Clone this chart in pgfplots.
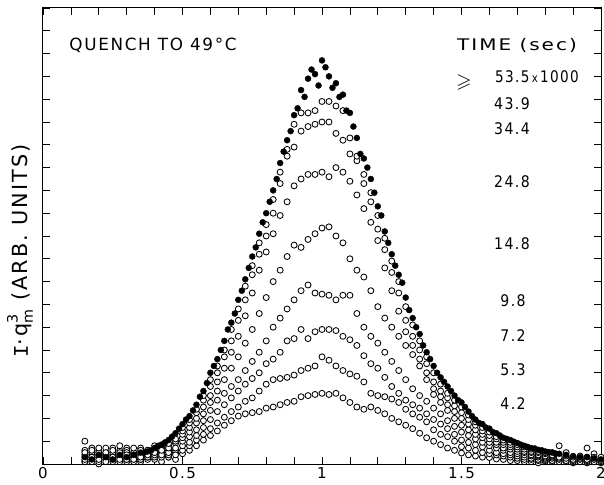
\documentclass[border=0pt]{standalone}
\usepackage{pgfplots}
\pgfplotsset{compat=1.18}
\usepackage{pgfplotstable}
\usepackage{amssymb}
\usepackage{fontspec}
\setmainfont{DejaVu Sans}[LetterSpace=10]
\newfontfamily\monofont{Liberation Mono}

% scattering curves, one column per quench time (F = >= 53.5 x 1000 s)
\pgfplotstableread{
x     F     A     B     C     D     E     G     H     K
0.150 0.3   1.0   0.5   0.2   0.6   0.1   0.4   0.3   0.1
0.175 0.2   0.6   0.3   0.5   0.1   0.4   0.7   0.2   0.3
0.200 0.4   0.2   0.7   0.3   0.5   0.6   0.1   0.4   0.0
0.225 0.3   0.5   0.4   0.1   0.7   0.3   0.5   0.2   0.4
0.250 0.2   0.3   0.6   0.5   0.2   0.1   0.4   0.7   0.3
0.275 0.4   0.8   0.2   0.3   0.5   0.4   0.1   0.3   0.6
0.300 0.3   0.4   0.5   0.6   0.2   0.3   0.7   0.2   0.1
0.325 0.4   0.2   0.7   0.4   0.5   0.1   0.3   0.5   0.3
0.350 0.5   0.6   0.3   0.2   0.7   0.4   0.2   0.1   0.5
0.375 0.55  0.4   0.6   0.5   0.3   0.6   0.4   0.3   0.2
0.400 0.7   0.8   0.5   0.6   0.4   0.3   0.6   0.2   0.4
0.425 0.85  0.6   0.8   0.4   0.7   0.5   0.3   0.5   0.1
0.450 1.05  0.9   0.7   0.8   0.5   0.6   0.4   0.3   0.3
0.475 1.35  1.1   1.0   0.7   0.9   0.4   0.6   0.5   0.2
0.500 1.75  1.6   1.45  1.3   1.15  1.0   0.8   0.6   0.45
0.525 2.1   1.95  1.8   1.6   1.4   1.2   0.95  0.8   0.6
0.550 2.6   2.4   2.25  2.0   1.8   1.5   1.25  1.05  0.8
0.575 3.2   3.0   2.8   2.5   2.2   1.9   1.6   1.3   1.05
0.600 4.0   3.7   3.4   3.0   2.7   2.35  1.95  1.55  1.25
0.625 4.6   4.3   4.0   3.6   3.2   2.8   2.3   1.8   1.45
0.650 5.4   5.0   4.7   4.2   3.7   3.1   2.6   2.05  1.7
0.675 6.2   5.9   5.4   4.9   4.2   3.4   2.9   2.3   1.9
0.700 7.2   6.8   6.3   5.6   4.7   3.7   3.2   2.5   2.1
0.725 8.1   7.8   7.2   6.5   5.3   4.1   3.5   2.75  2.2
0.750 9.1   8.7   8.3   7.5   5.9   4.5   3.75  2.9   2.25
0.775 10.1  9.7   9.2   8.5   6.6   4.9   4.0   3.2   2.3
0.800 11.0  10.5  10.0  9.3   7.3   5.4   4.4   3.5   2.45
0.825 12.0  11.6  11.0  10.1  8.0   6.0   4.6   3.7   2.5
0.850 13.2  12.8  12.3  10.9  8.5   6.4   4.9   3.75  2.6
0.875 14.2  13.8  13.5  11.5  9.1   6.8   5.4   3.8   2.7
0.900 15.3  14.9  13.9  12.2  9.6   7.2   5.5   3.9   2.75
0.925 16.4  15.4  14.6  12.5  9.5   7.6   5.9   4.1   2.95
0.950 16.9  15.4  14.8  12.7  9.85  7.85  5.5   4.2   3.0
0.975 17.1  15.5  14.9  12.7  10.1  7.5   5.8   4.3   3.05
1.000 17.7  15.9  15.0  12.8  10.35 7.45  5.9   4.7   3.1
1.025 17.0  15.9  15.0  12.6  10.4  7.4   5.9   4.55  3.05
1.050 16.7  15.7  14.5  13.0  10.0  7.2   5.85  4.3   3.1
1.075 16.2  15.5  14.2  12.8  9.7   7.4   5.6   4.1   2.9
1.100 15.4  14.3  13.6  12.4  9.0   7.4   5.45  3.95  2.7
1.125 14.3  13.5  13.3  11.8  8.5   6.6   5.2   3.85  2.5
1.150 13.4  12.7  12.3  11.2  8.2   6.0   4.75  3.6   2.4
1.175 12.5  11.9  11.5  10.6  7.6   5.6   4.4   3.1   2.5
1.200 11.3  10.9  10.3  9.8   6.9   5.3   4.2   3.0   2.35
1.225 10.2  9.9   9.4   8.6   6.4   4.9   3.8   2.95  2.2
1.250 9.2   8.9   8.4   7.6   6.0   4.5   3.4   2.85  2.0
1.275 8.3   8.0   7.5   6.7   5.6   4.1   3.1   2.7   1.85
1.300 7.3   6.9   6.3   5.8   5.2   3.7   2.8   2.4   1.7
1.325 6.4   6.1   5.6   5.2   4.8   3.3   2.6   2.2   1.55
1.350 5.7   5.4   5.0   4.6   4.3   3.0   2.45  2.05  1.35
1.375 4.9   4.7   4.4   4.0   3.7   2.75  2.2   1.85  1.15
1.400 4.3   4.0   3.6   3.3   3.05  2.45  1.95  1.5   1.0
1.425 3.8   3.5   3.2   2.95  2.7   2.2   1.75  1.3   0.85
1.450 3.4   3.1   2.9   2.6   2.35  1.9   1.55  1.2   0.7
1.475 3.0   2.8   2.55  2.3   2.0   1.65  1.3   1.0   0.6
1.500 2.7   2.5   2.25  2.0   1.7   1.4   1.05  0.76  0.48
1.525 2.3   2.15  1.95  1.75  1.5   1.25  0.95  0.7   0.4
1.550 1.95  1.85  1.7   1.5   1.3   1.1   0.85  0.6   0.35
1.575 1.75  1.6   1.45  1.3   1.15  0.95  0.75  0.5   0.3
1.600 1.55  1.4   1.25  1.1   0.95  0.8   0.6   0.45  0.28
1.625 1.35  1.2   1.1   0.95  0.85  0.7   0.5   0.4   0.22
1.650 1.15  1.05  0.95  0.85  0.7   0.6   0.45  0.35  0.2
1.675 1.05  0.95  0.85  0.75  0.65  0.5   0.4   0.3   0.15
1.700 0.92  0.85  0.75  0.65  0.55  0.45  0.35  0.25  0.15
1.725 0.8   0.75  0.65  0.55  0.5   0.4   0.3   0.2   0.1
1.750 0.7   0.65  0.55  0.5   0.4   0.35  0.25  0.2   0.1
1.775 0.62  0.55  0.5   0.4   0.35  0.3   0.2   0.15  0.05
1.800 0.55  0.5   0.45  0.35  0.3   0.25  0.2   0.15  0.1
1.825 0.5   0.4   0.35  0.3   0.25  0.5   0.15  0.1   0.2
1.850 0.45  0.8   0.3   0.25  0.2   0.3   0.4   0.1   0.15
1.875 0.4   0.35  0.25  0.5   0.15  0.2   0.3   0.25  0.1
1.900 0.35  0.3   0.2   0.25  0.3   0.15  0.1   0.2   0.05
1.925 0.3   0.25  0.35  0.2   0.1   0.3   0.2   0.15  0.1
1.950 0.3   0.2   0.7   0.15  0.25  0.1   0.3   0.2   0.05
1.975 0.25  0.3   0.2   0.45  0.1   0.2   0.15  0.1   0.2
2.000 0.2   0.15  0.3   0.1   0.2   0.1   0.25  0.15  0.05
}\curves

% second late-time run, filled dots between the points of F
\pgfplotstableread{
x      y
0.3625 0.5
0.3875 0.6
0.4125 0.8
0.4375 0.95
0.4625 1.2
0.4875 1.55
0.5125 1.95
0.5375 2.35
0.5625 2.95
0.5875 3.55
0.6125 4.3
0.6375 5.0
0.6625 5.9
0.6875 6.6
0.7125 7.6
0.7375 8.6
0.7625 9.5
0.7875 10.6
0.8125 11.5
0.8375 12.5
0.8625 13.7
0.8875 14.6
0.9125 15.6
0.9375 16.1
0.9625 17.3
0.9875 16.6
1.0125 17.4
1.0375 16.5
1.0625 16.1
1.0875 15.5
1.1125 14.8
1.1375 13.6
1.1625 13.0
1.1875 11.9
1.2125 10.9
1.2375 9.7
1.2625 8.7
1.2875 7.95
1.3125 6.75
1.3375 6.0
1.3625 5.2
1.3875 4.6
1.4125 4.0
1.4375 3.6
1.4625 3.2
1.4875 2.8
1.5125 2.5
1.5375 2.1
1.5625 1.8
1.5875 1.6
1.6125 1.4
1.6375 1.25
1.6625 1.1
1.6875 0.98
1.7125 0.85
1.7375 0.75
1.7625 0.68
1.7875 0.6
1.8125 0.52
1.8375 0.46
}\latefill

\begin{document}
\begin{tikzpicture}
\useasboundingbox (-43pt,-20pt) rectangle (561pt,464pt);
\begin{axis}[
    width=558pt, height=456pt, scale only axis,
    xmin=0, xmax=2, ymin=0, ymax=20,
    xtick={0,0.5,1,1.5,2},
    xticklabels={0,0.5,1,1.5,2},
    minor x tick num=4,
    ytick={0,1,...,20},
    yticklabels={},
    major tick length=7pt, minor tick length=7pt,
    tick style={line width=0.8pt, black},
    axis line style={line width=1pt},
    tick label style={font=\fontsize{15}{15}\selectfont},
    /pgf/number format/assume math mode=true,
    clip=false,
]
\foreach \c in {K,H,G,E,D,C,B,A}{
  \addplot[only marks, mark=*, mark size=3pt,
    mark options={fill=white, draw=black, line width=0.85pt}]
    table[x=x, y=\c] {\curves};
}
\addplot[only marks, mark=*, mark size=3pt, mark options={fill=black, draw=black}]
    table[x=x, y=F] {\curves};
\addplot[only marks, mark=*, mark size=3pt, mark options={fill=black, draw=black}]
    table[x=x, y=y] {\latefill};
\end{axis}

\begin{scope}[font=\fontsize{16}{16}\selectfont]
\node at (110pt,419pt) {\scalebox{1.05}{QUENCH TO 49°C}};
\node at (474pt,419pt) {\scalebox{1.25}[1]{TIME (sec)}};
\node at (421pt,381pt) {\scalebox{1.25}{$\geqslant$}};
\node[anchor=west, inner sep=0pt] at (452pt,387pt) {\scalebox{0.85}[1]{53.5\,{\fontsize{12}{12}\selectfont x}\,1000}};
\node at (469pt,360pt) {\scalebox{0.88}[1]{43.9}};
\node at (469pt,335pt) {\scalebox{0.88}[1]{34.4}};
\node at (469pt,282pt) {\scalebox{0.88}[1]{24.8}};
\node at (469pt,220pt) {\scalebox{0.88}[1]{14.8}};
\node at (470pt,163pt) {\scalebox{0.88}[1]{9.8}};
\node at (470pt,128pt) {\scalebox{0.88}[1]{7.2}};
\node at (470pt,94pt) {\scalebox{0.88}[1]{5.3}};
\node at (470pt,60pt) {\scalebox{0.88}[1]{4.2}};
\node[rotate=90] at (-23pt,213pt) {\scalebox{1.3}{{\monofont I}·q\raisebox{0.9ex}{\rlap{\fontsize{11}{11}\selectfont 3}}\raisebox{-0.45ex}{\fontsize{11}{11}\selectfont m}\ (ARB. UNITS)}};
\end{scope}
\end{tikzpicture}
\end{document}
